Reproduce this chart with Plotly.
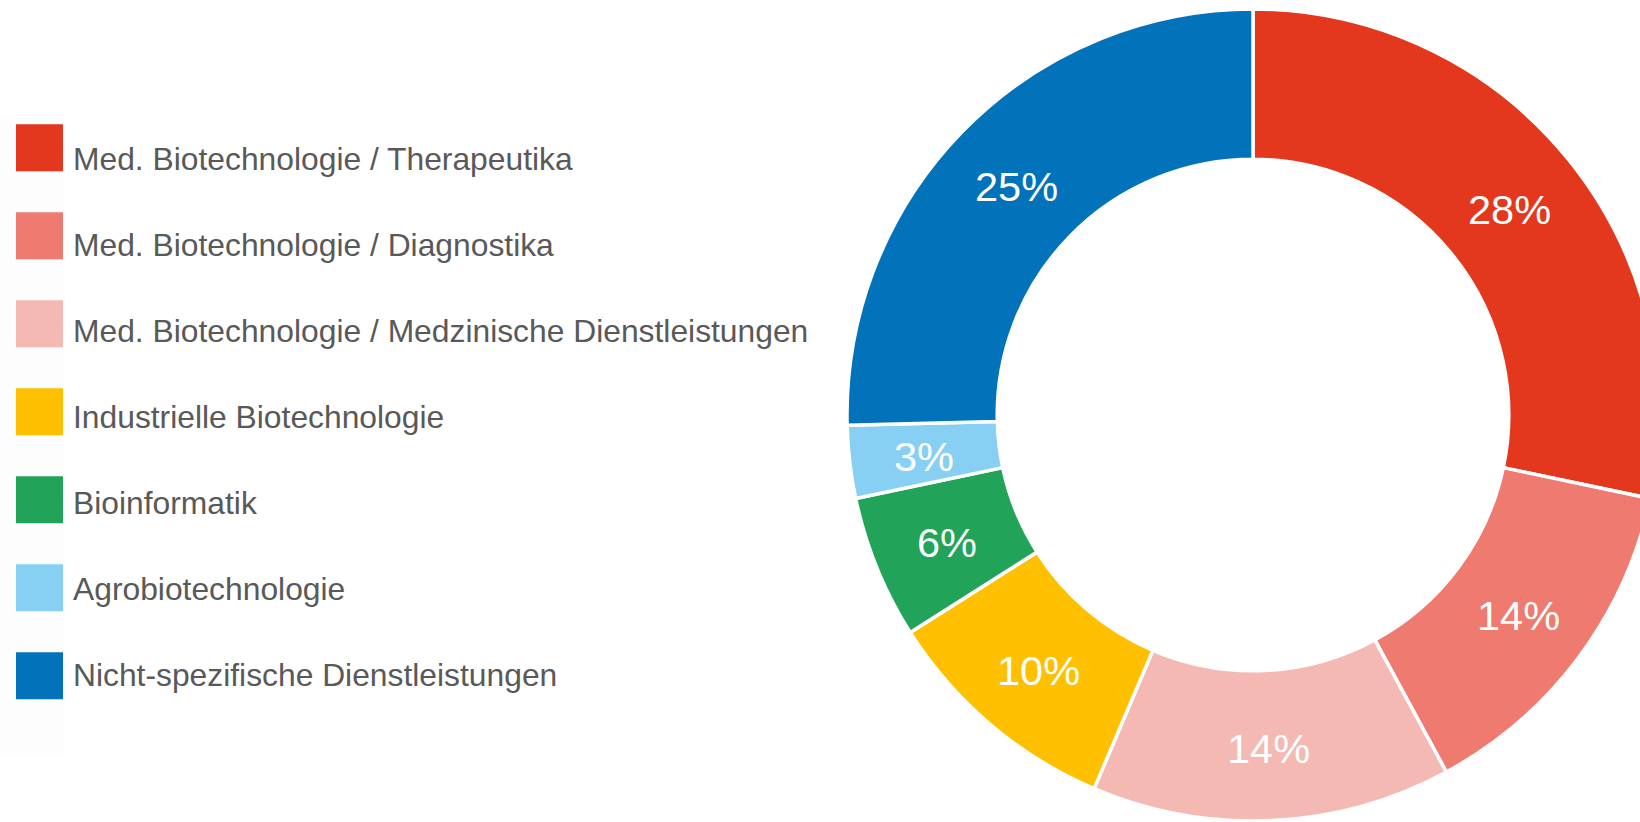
import math
import plotly.graph_objects as go

# ---- data ----
categories = [
    "Med. Biotechnologie / Therapeutika",
    "Med. Biotechnologie / Diagnostika",
    "Med. Biotechnologie / Medzinische Dienstleistungen",
    "Industrielle Biotechnologie",
    "Bioinformatik",
    "Agrobiotechnologie",
    "Nicht-spezifische Dienstleistungen",
]
shares = [28.3, 13.8, 14.3, 9.6, 5.7, 2.9, 25.4]
colors = ["#E3371E", "#EE7A70", "#F4B9B2", "#FEC000", "#21A35A", "#87D0F4", "#0272BA"]

# ---- layout constants (pixels) ----
W, H = 1700, 822
cx, cy, r = 1253, 415, 406
hole = 0.63

FONT = "Liberation Sans, Arial, sans-serif"

fig = go.Figure()
fig.add_trace(go.Pie(
    labels=categories,
    values=shares,
    sort=False,
    direction="clockwise",
    rotation=0,
    hole=hole,
    marker=dict(colors=colors, line=dict(color="white", width=3.5)),
    textinfo="none",
    showlegend=False,
    hoverinfo="label+percent",
    domain=dict(x=[(cx - r) / W, (cx + r) / W], y=[1 - (cy + r) / H, 1 - (cy - r) / H]),
))

annotations = []

# ---- percentage labels at the middle of each ring segment ----
total = sum(shares)
r_mid = r * (1 + hole) / 2
cum = 0.0
for v in shares:
    ang = 2 * math.pi * (cum + v / 2) / total
    cum += v
    px = cx + r_mid * math.sin(ang)
    py = cy - r_mid * math.cos(ang) + 3
    annotations.append(dict(xref="paper", yref="paper", x=px / W, y=1 - py / H,
                            xanchor="center", yanchor="middle", showarrow=False,
                            text=f"{round(v / total * 100)}%",
                            font=dict(family=FONT, size=41.5, color="white")))

# ---- custom legend (large swatches) ----
shapes = [dict(type="rect", xref="paper", yref="paper",
               x0=0, x1=63 / W, y0=1 - 756 / H, y1=1 - 115 / H,
               fillcolor="#FDFDFD", line=dict(width=0), layer="below")]
sq_x0, sq_size, top0, step = 16, 47, 124.3, 88
txt0, txt_step = 159, 86
for i, (name, col) in enumerate(zip(categories, colors)):
    top = top0 + step * i
    shapes.append(dict(type="rect", xref="paper", yref="paper",
                       x0=sq_x0 / W, x1=(sq_x0 + sq_size) / W,
                       y0=1 - (top + sq_size) / H, y1=1 - top / H,
                       fillcolor=col, line=dict(width=0)))
    annotations.append(dict(xref="paper", yref="paper",
                            x=71 / W, y=1 - (txt0 + txt_step * i) / H,
                            xanchor="left", yanchor="middle", showarrow=False,
                            text=name,
                            font=dict(family=FONT, size=31.8, color="#595959")))

fig.update_layout(
    width=W, height=H,
    margin=dict(l=0, r=0, t=0, b=0),
    paper_bgcolor="white", plot_bgcolor="white",
    shapes=shapes, annotations=annotations,
)

fig.write_html(
    "out.html",
    post_script="document.body.style.margin='0';document.body.style.overflow='hidden';document.documentElement.style.overflow='hidden';",
)
